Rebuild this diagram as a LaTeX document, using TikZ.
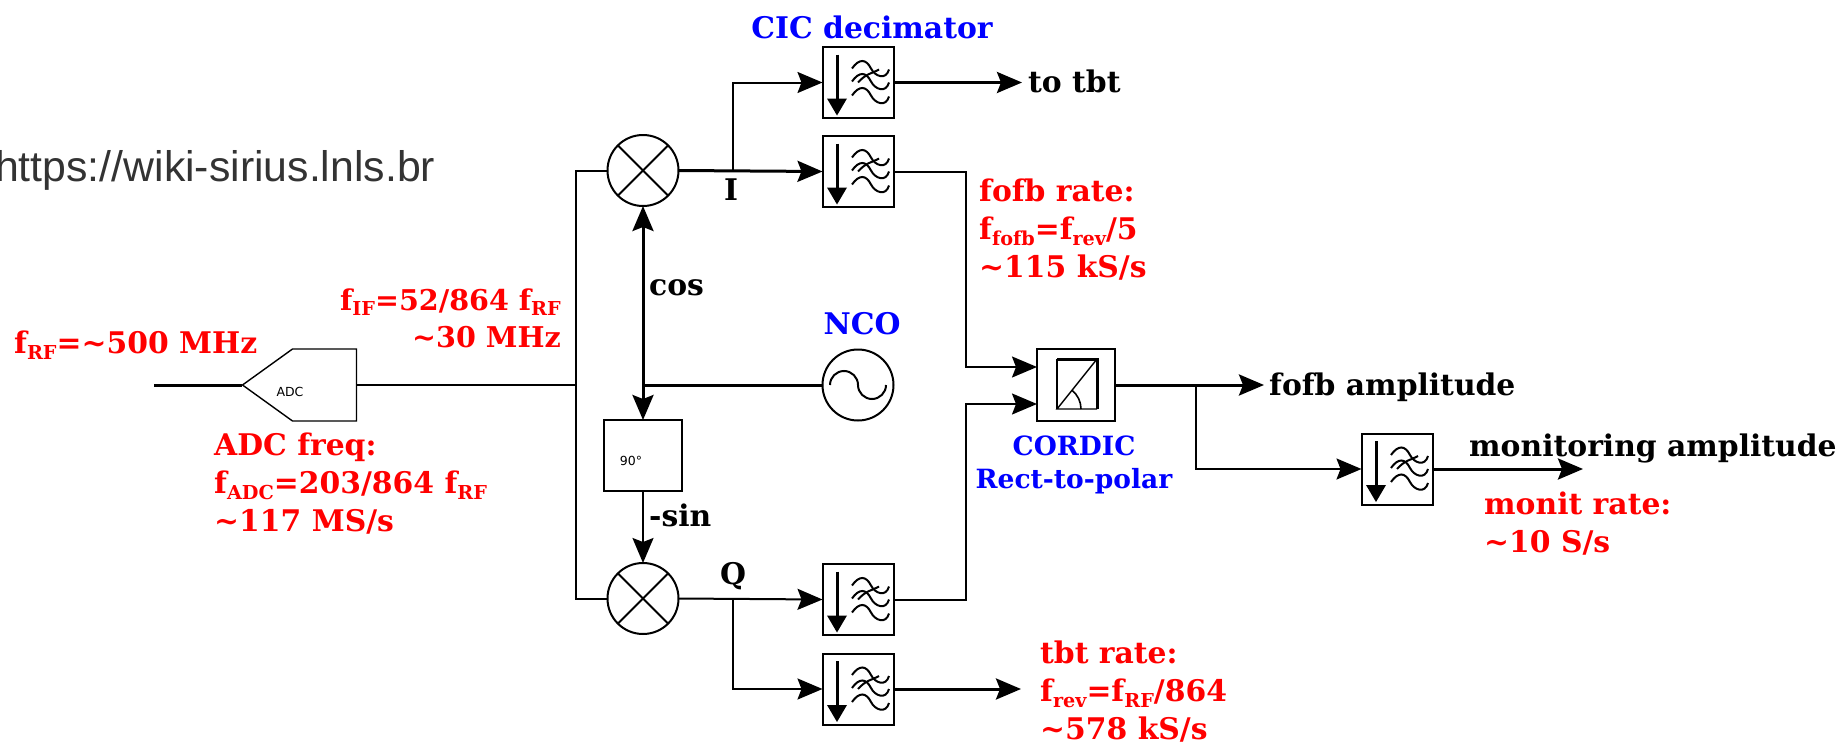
\documentclass[tikz,border=0pt]{standalone}
\usepackage{fontspec}
\setmainfont{DejaVu Serif}
\newfontfamily\urlfont{Liberation Sans}
\newfontfamily\tinyfont{DejaVu Sans}
\newcommand{\lowsub}[1]{\raisebox{-0.2em}{\fontsize{19.2}{19.2}\selectfont #1}}
\usetikzlibrary{arrows.meta,shapes.symbols}
\begin{document}
\begin{tikzpicture}[x=1pt, y=-1pt,
    >={Stealth[length=25pt,width=21pt,inset=4pt]},
    wire/.style = {draw, line width=2pt},
    thickwire/.style = {draw, line width=3pt},
    boldtext/.style = {inner sep=0pt, align=left,
      font=\fontsize{29.8}{38}\selectfont\bfseries},
    redtext/.style = {boldtext, text=red},
    bluetext/.style = {boldtext, text=blue},
    tinytext/.style = {inner sep=0pt, font=\fontsize{12.5}{15}\tinyfont},
    filterbox/.style = {draw, line width=2pt, minimum size=71pt, inner sep=0pt, outer sep=0pt,
      path picture={
        \begin{scope}[shift={(path picture bounding box.center)}]
          \draw[line width=3pt] (-21,-28) -- (-21,18);
          \fill (-31,16) -- (-11,16) -- (-21,33) -- cycle;
          \foreach \dy in {0,13,27} {
            \draw[line width=2pt] (-6,-14+\dy) .. controls (1,-24+\dy) and (8,-24+\dy) .. (13,-14+\dy)
                .. controls (17,-6+\dy) and (28,-2+\dy) .. (31,-13+\dy);
          }
          \draw[line width=2pt] (0,0) .. controls (8,-9) and (14,-9) .. (21,-13);
        \end{scope}
      }},
    mixer/.style = {circle, draw, line width=2pt, minimum size=71pt, inner sep=0pt, outer sep=0pt,
      path picture={
        \draw[line width=2pt] (path picture bounding box.north west) -- (path picture bounding box.south east);
        \draw[line width=2pt] (path picture bounding box.north east) -- (path picture bounding box.south west);
      }},
    oscillator/.style = {circle, draw, line width=2pt, minimum size=71pt, inner sep=0pt, outer sep=0pt,
      path picture={
        \begin{scope}[shift={(path picture bounding box.center)}]
          \draw[line width=2pt] (-28,0) arc (180:0:14pt) arc (180:360:14pt);
        \end{scope}
      }},
    cordicbox/.style = {draw, line width=2pt, minimum width=78pt, minimum height=72pt, inner sep=0pt, outer sep=0pt,
      path picture={
        \begin{scope}[shift={(path picture bounding box.center)}]
          \draw[line width=2.4pt] (-19,24) -- (-19,-26);
          \draw[line width=3pt] (-19,-26) -- (21,-26) -- (21,24);
          \draw[line width=1.4pt] (21,24) -- (-19,24) -- (21,-26);
          \draw[line width=1.6pt] (5,24) arc (0:52:24pt);
        \end{scope}
      }},
    adcbox/.style = {shape=signal, signal to=west, signal pointer angle=71.5, draw, line width=1.4pt,
      minimum width=114pt, minimum height=72pt, inner sep=0pt, outer sep=0pt},
    shiftbox/.style = {draw, line width=2pt, minimum width=78pt, minimum height=71pt, inner sep=0pt, outer sep=0pt}]
    \useasboundingbox (0,0) rectangle (1840,744);

    \node[anchor=west, inner sep=0pt, text=black!80, font=\fontsize{42.8}{48}\urlfont] (wiki) at (-5,170.5) {https://wiki-sirius.lnls.br};

    \node[adcbox] (adc) at (324.5,385) {};
    \node[tinytext] (adctext) at (290,392) {ADC};
    \coordinate (rfin) at (154,385);
    \coordinate (bus) at (576,385);
    \coordinate (bustop) at (576,170.5);
    \coordinate (busbot) at (576,598.5);

    \node[mixer] (mixi) at (643,170.5) {};
    \node[mixer] (mixq) at (643,598.5) {};
    \node[oscillator] (nco) at (858,385) {};
    \node[shiftbox] (shift) at (643,455.5) {};
    \node[tinytext] (shifttext) at (631,461) {90°};
    \coordinate (split) at (643,385);

    \node[filterbox] (cictop) at (858,82.5) {};
    \node[filterbox] (cici) at (858,171.5) {};
    \node[filterbox] (cicq) at (858,599.5) {};
    \node[filterbox] (cicbot) at (858,689) {};
    \node[filterbox] (monit) at (1397,469) {};
    \node[cordicbox] (cordic) at (1076,385) {};

    \coordinate (ibranch) at (733,171);
    \coordinate (qbranch) at (733,599);
    \coordinate (itop) at (733,82.5);
    \coordinate (qbot) at (733,689);
    \coordinate (icorner) at (966,171.5);
    \coordinate (qcorner) at (966,599.5);
    \coordinate (cordicina) at (1037,367);
    \coordinate (cordicinb) at (1037,404);
    \coordinate (ampbranch) at (1196,385);
    \coordinate (ampdown) at (1196,469);
    \coordinate (ampout) at (1264,385);
    \coordinate (topout) at (1022,82.5);
    \coordinate (botout) at (1021,689);
    \coordinate (monitout) at (1583,469);

    \path[thickwire] (rfin) -- (adc.west);
    \path[wire] (adc.east) -- (bus);
    \path[wire] (mixi.west) -- (bustop) -- (busbot) -- (mixq.west);
    \path[thickwire, <->] (mixi.south) -- (shift.north);
    \path[thickwire] (split) -- (nco.west);
    \path[wire, ->] (shift.south) -- (mixq.north);
    \path[thickwire, ->] (mixi.east) -- (cici.west);
    \path[wire, ->] (ibranch) -- (itop) -- (cictop.west);
    \path[wire, ->] (mixq.east) -- (cicq.west);
    \path[wire, ->] (qbranch) -- (qbot) -- (cicbot.west);
    \path[thickwire, ->] (cictop.east) -- (topout);
    \path[thickwire, ->] (cicbot.east) -- (botout);
    \path[wire, ->] (cici.east) -- (icorner) |- (cordicina);
    \path[wire, ->] (cicq.east) -- (qcorner) |- (cordicinb);
    \path[thickwire, ->] (cordic.east) -- (ampout);
    \path[wire, ->] (ampbranch) -- (ampdown) -- (monit.west);
    \path[thickwire, ->] (monit.east) -- (monitout);

    \node[bluetext] (cictitle) at (872,27) {CIC decimator};
    \node[bluetext] (ncotitle) at (862,324) {NCO};
    \node[bluetext, align=center, font=\fontsize{26.5}{33}\selectfont\bfseries] (cordictitle) at (1074,464.5) {CORDIC\\Rect-to-polar};

    \node[boldtext, anchor=west] (totbt) at (1028,81) {to tbt};
    \node[boldtext] (ilabel) at (731,190) {I};
    \node[boldtext] (qlabel) at (733,576) {Q};
    \node[boldtext, anchor=west] (coslabel) at (649,288) {cos};
    \node[boldtext, anchor=west] (sinlabel) at (649,515) {-sin};
    \node[boldtext, anchor=west] (fofbamp) at (1269,387) {fofb amplitude};
    \node[boldtext, anchor=west] (monitamp) at (1469,448) {monitoring amplitude};

    \node[redtext, anchor=west] (rflabel) at (14,345) {f\lowsub{RF}=\textasciitilde 500 MHz};
    \node[redtext, anchor=east, align=right, font=\fontsize{28.6}{37}\selectfont\bfseries] (iflabel) at (561,318) {f\lowsub{IF}=52/864 f\lowsub{RF}\\\textasciitilde 30 MHz};
    \node[redtext, anchor=west] (adclabel) at (214,484) {ADC freq:\\f\lowsub{ADC}=203/864 f\lowsub{RF}\\\textasciitilde 117 MS/s};
    \node[redtext, anchor=west] (fofblabel) at (979,230) {fofb rate:\\f\lowsub{fofb}=f\lowsub{rev}/5\\\textasciitilde 115 kS/s};
    \node[redtext, anchor=west] (monitlabel) at (1484,524) {monit rate:\\\textasciitilde 10 S/s};
    \node[redtext, anchor=west] (tbtlabel) at (1040,692) {tbt rate:\\f\lowsub{rev}=f\lowsub{RF}/864\\\textasciitilde 578 kS/s};
\end{tikzpicture}
\end{document}
